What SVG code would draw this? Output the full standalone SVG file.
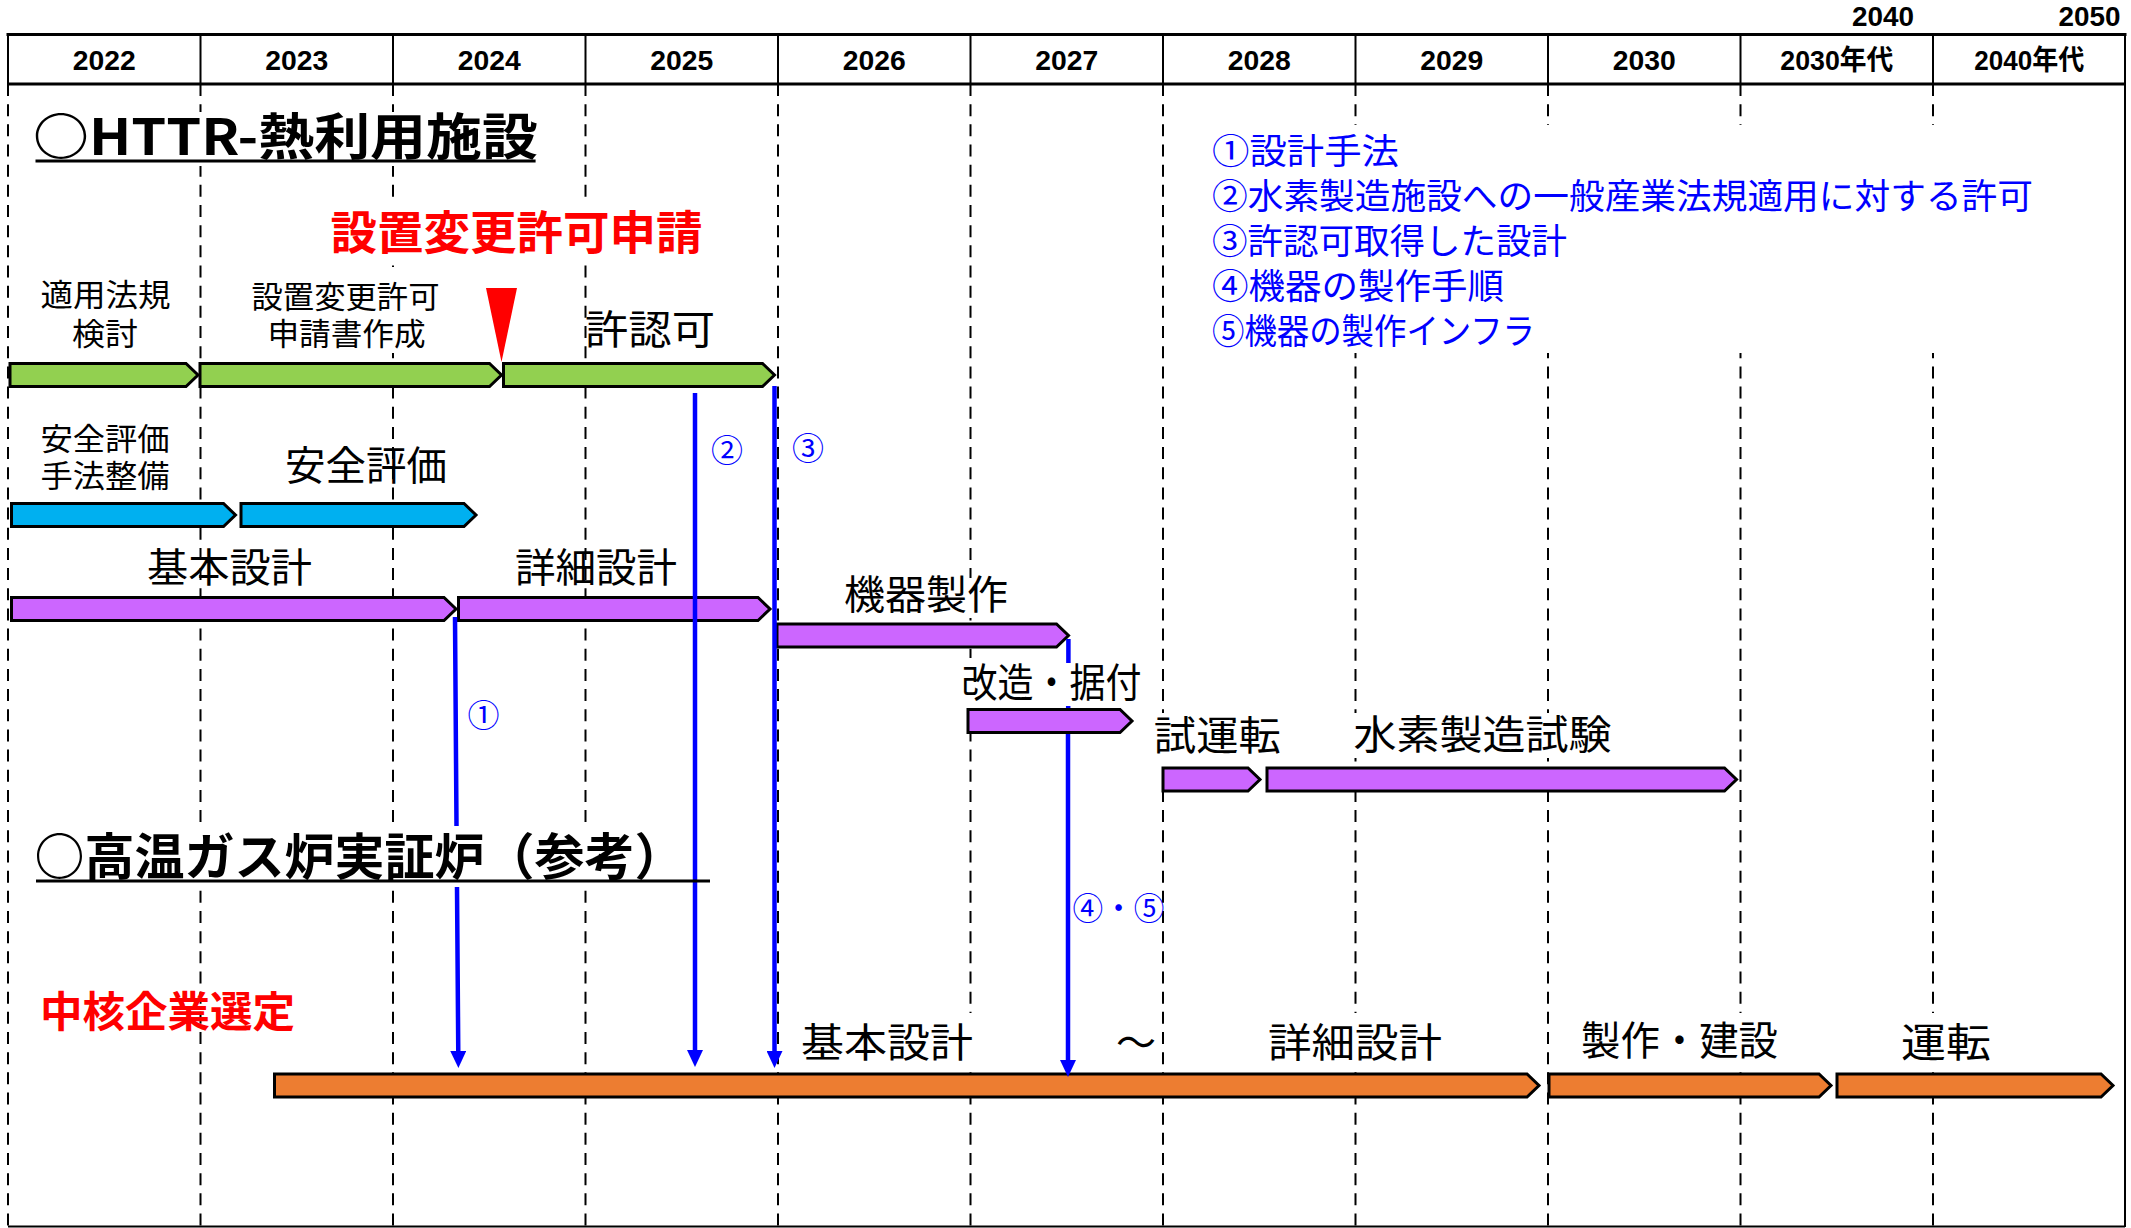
<svg xmlns="http://www.w3.org/2000/svg" width="2131" height="1228" viewBox="0 0 2131 1228" lang="ja">
<defs>
<style>
.hdr{font-family:"Liberation Sans","Noto Sans CJK JP",sans-serif;font-weight:bold;font-size:28px;fill:#000;text-anchor:middle}
.jp{font-family:"Noto Sans CJK JP",sans-serif;fill:#000;text-anchor:middle}
.ml{font-family:"Liberation Sans","Noto Sans CJK JP",sans-serif}
.lbl{font-size:40px}
.sm{font-size:31px}
.ttl{font-size:50px;font-weight:bold}
.red{fill:#FF0000;font-weight:bold}
.blu{fill:#0000FF;font-size:35px;text-anchor:start}
.num{fill:#0000FF;font-size:32px}
.solid{stroke:#000;stroke-width:2;fill:none}
.thick{stroke:#000;stroke-width:3;fill:none}
.dash{stroke:#000;stroke-width:2;stroke-dasharray:12 8.17;fill:none}
.bar{stroke:#000;stroke-width:3;stroke-linejoin:miter}
.g{fill:#92D050}.c{fill:#00B0F0}.p{fill:#CC66FF}.o{fill:#ED7D31}
.conn{stroke:#0000FF;stroke-width:4.5;fill:none}
.wb{fill:#fff}
.ul{stroke:#000;stroke-width:3}
</style>
<marker id="ah" viewBox="0 0 17 16" refX="5" refY="8" markerWidth="17" markerHeight="16" markerUnits="userSpaceOnUse" orient="auto"><path d="M0,0 L17,8 L0,16 z" fill="#0000FF"/></marker>
</defs>
<rect width="2131" height="1228" fill="#fff"/>

<g id="grid">
<path class="dash" d="M8,84V1226 M200.5,84V1226 M393,84V1226 M585.5,84V1226 M778,84V1226 M970.5,84V1226 M1163,84V1226 M1355.5,84V1226 M1548,84V1226 M1740.5,84V1226 M1933,84V1226"/>
<path class="solid" d="M8,34.5V84 M200.5,34.5V84 M393,34.5V84 M585.5,34.5V84 M778,34.5V84 M970.5,34.5V84 M1163,34.5V84 M1355.5,34.5V84 M1548,34.5V84 M1740.5,34.5V84 M1933,34.5V84 M2125,34.5V1227 M8,1226.5H2125"/>
<path class="thick" d="M6.5,34.5H2126.5 M8,84H2125"/>
</g>

<g id="header">
<text class="hdr" x="104.25" y="70" textLength="63" lengthAdjust="spacingAndGlyphs">2022</text>
<text class="hdr" x="296.75" y="70" textLength="63" lengthAdjust="spacingAndGlyphs">2023</text>
<text class="hdr" x="489.25" y="70" textLength="63" lengthAdjust="spacingAndGlyphs">2024</text>
<text class="hdr" x="681.75" y="70" textLength="63" lengthAdjust="spacingAndGlyphs">2025</text>
<text class="hdr" x="874.25" y="70" textLength="63" lengthAdjust="spacingAndGlyphs">2026</text>
<text class="hdr" x="1066.75" y="70" textLength="63" lengthAdjust="spacingAndGlyphs">2027</text>
<text class="hdr" x="1259.25" y="70" textLength="63" lengthAdjust="spacingAndGlyphs">2028</text>
<text class="hdr" x="1451.75" y="70" textLength="63" lengthAdjust="spacingAndGlyphs">2029</text>
<text class="hdr" x="1644.25" y="70" textLength="63" lengthAdjust="spacingAndGlyphs">2030</text>
<text class="hdr" x="1836.75" y="70" textLength="113" lengthAdjust="spacingAndGlyphs">2030年代</text>
<text class="hdr" x="2029.25" y="70" textLength="110" lengthAdjust="spacingAndGlyphs">2040年代</text>
<text class="hdr" x="1883" y="26" textLength="62" lengthAdjust="spacingAndGlyphs">2040</text>
<text class="hdr" x="2089.5" y="26" textLength="62" lengthAdjust="spacingAndGlyphs">2050</text>
</g>

<g id="masks">
<rect class="wb" x="30" y="112" width="512" height="54"/>
<rect class="wb" x="328" y="201" width="378" height="59"/>
<rect class="wb" x="240" y="267" width="215" height="86"/>
<rect class="wb" x="1200" y="125" width="850" height="228"/>
<rect class="wb" x="30" y="826" width="682" height="61"/>
<rect class="wb" x="838" y="578" width="176" height="40"/>
<rect class="wb" x="955" y="658" width="192" height="49"/>
<rect class="wb" x="1150" y="713" width="135" height="50"/>
<rect class="wb" x="1345" y="713" width="275" height="45"/>
<rect class="wb" x="790" y="1013" width="190" height="58"/>
<rect class="wb" x="1260" y="1013" width="190" height="58"/>
<rect class="wb" x="1575" y="1013" width="210" height="58"/>
<rect class="wb" x="1890" y="1013" width="110" height="58"/>
</g>

<g id="title-httr">
<text class="jp ttl" x="285.5" y="155" textLength="505" lengthAdjust="spacingAndGlyphs">○HTTR-熱利用施設</text>
<line class="ul" x1="35.5" y1="161" x2="535.6" y2="161"/>
</g>

<g id="legend">
<text class="jp ml blu"><tspan x="1212" y="164" textLength="187" lengthAdjust="spacingAndGlyphs">①設計手法</tspan><tspan x="1212" y="209" textLength="821" lengthAdjust="spacingAndGlyphs">②水素製造施設への一般産業法規適用に対する許可</tspan><tspan x="1212" y="254" textLength="355" lengthAdjust="spacingAndGlyphs">③許認可取得した設計</tspan><tspan x="1212" y="299" textLength="292" lengthAdjust="spacingAndGlyphs">④機器の製作手順</tspan><tspan x="1212" y="344" textLength="323" lengthAdjust="spacingAndGlyphs">⑤機器の製作インフラ</tspan></text>
</g>

<g id="application">
<text class="jp red" style="font-size:46px" x="516.5" y="249" textLength="372" lengthAdjust="spacingAndGlyphs">設置変更許可申請</text>
<polygon points="486,288 517,288 501.5,362" fill="#FF0000"/>
</g>

<g id="task-tekiyo">
<polygon class="bar g" points="10,363.5 186,363.5 198,375 186,386.5 10,386.5"/>
<text class="jp ml sm"><tspan x="105.5" y="306" textLength="130" lengthAdjust="spacingAndGlyphs">適用法規</tspan><tspan x="105" y="345" textLength="66" lengthAdjust="spacingAndGlyphs">検討</tspan></text>
</g>
<g id="task-shinsei">
<polygon class="bar g" points="200,363.5 489.5,363.5 501.5,375 489.5,386.5 200,386.5"/>
<text class="jp ml sm"><tspan x="345.5" y="308" textLength="188" lengthAdjust="spacingAndGlyphs">設置変更許可</tspan><tspan x="346.5" y="345" textLength="158" lengthAdjust="spacingAndGlyphs">申請書作成</tspan></text>
</g>
<g id="task-kyoninka">
<polygon class="bar g" points="503.5,363.5 762.5,363.5 774.5,375 762.5,386.5 503.5,386.5"/>
<text class="jp lbl" x="650" y="344" textLength="130" lengthAdjust="spacingAndGlyphs">許認可</text>
</g>

<g id="task-anzen-shuho">
<polygon class="bar c" points="11.5,503.5 223.5,503.5 235.5,515 223.5,526.5 11.5,526.5"/>
<text class="jp ml sm"><tspan x="105" y="450" textLength="129" lengthAdjust="spacingAndGlyphs">安全評価</tspan><tspan x="105" y="487" textLength="129" lengthAdjust="spacingAndGlyphs">手法整備</tspan></text>
</g>
<g id="task-anzen">
<polygon class="bar c" points="241,503.5 464,503.5 476,515 464,526.5 241,526.5"/>
<text class="jp lbl" x="366" y="480" textLength="162" lengthAdjust="spacingAndGlyphs">安全評価</text>
</g>

<g id="task-kihon">
<polygon class="bar p" points="11.5,597.5 444,597.5 456,609 444,620.5 11.5,620.5"/>
<text class="jp lbl" x="229.5" y="582" textLength="165" lengthAdjust="spacingAndGlyphs">基本設計</text>
</g>
<g id="task-shosai">
<polygon class="bar p" points="458.5,597.5 758,597.5 770,609 758,620.5 458.5,620.5"/>
<text class="jp lbl" x="596" y="582" textLength="162" lengthAdjust="spacingAndGlyphs">詳細設計</text>
</g>
<g id="task-seisaku">
<polygon class="bar p" points="777,624 1056.5,624 1068.5,635.5 1056.5,647 777,647"/>
<text class="jp lbl" x="926" y="609" textLength="164" lengthAdjust="spacingAndGlyphs">機器製作</text>
</g>

<g id="demo-reactor-bars">
<polygon class="bar o" points="274.5,1074 1527,1074 1539,1085.5 1527,1097 274.5,1097"/>
<polygon class="bar o" points="1549,1074 1819,1074 1831,1085.5 1819,1097 1549,1097"/>
<polygon class="bar o" points="1837,1074 2101,1074 2113,1085.5 2101,1097 1837,1097"/>
</g>

<g id="connectors">
<path class="conn" d="M455,617 L456.5,826 M457,887 L458.3,1056" marker-end="url(#ah)"/>
<path class="conn" d="M695,393 V1055" marker-end="url(#ah)"/>
<path class="conn" d="M774.5,386 V1056" marker-end="url(#ah)"/>
<path class="conn" d="M1068.4,639 V663 M1068.2,706 V709 M1068,733 V1065" marker-end="url(#ah)"/>
</g>

<g id="task-kaizo">
<polygon class="bar p" points="968,709.5 1120,709.5 1132,721 1120,732.5 968,732.5"/>
<text class="jp lbl" x="1051.5" y="697" textLength="180" lengthAdjust="spacingAndGlyphs">改造・据付</text>
</g>
<g id="task-shiunten">
<polygon class="bar p" points="1163,768 1248,768 1260,779.5 1248,791 1163,791"/>
<text class="jp lbl" x="1217.3" y="750" textLength="127" lengthAdjust="spacingAndGlyphs">試運転</text>
</g>
<g id="task-suiso">
<polygon class="bar p" points="1267,768 1724.5,768 1736.5,779.5 1724.5,791 1267,791"/>
<text class="jp lbl" x="1482.6" y="749" textLength="258" lengthAdjust="spacingAndGlyphs">水素製造試験</text>
</g>

<g id="conn-labels">
<text class="jp num" x="483.5" y="727">①</text>
<text class="jp num" x="727" y="462">②</text>
<text class="jp num" x="808" y="460">③</text>
<text class="jp num" x="1118.5" y="920" textLength="92" lengthAdjust="spacingAndGlyphs">④・⑤</text>
</g>

<g id="title-demo">
<text class="jp ttl" x="359.5" y="875" textLength="650" lengthAdjust="spacingAndGlyphs">○高温ガス炉実証炉（参考）</text>
<line class="ul" x1="36" y1="881" x2="710" y2="881"/>
</g>

<g id="select">
<text class="jp red" style="font-size:42px" x="167.5" y="1027" textLength="255" lengthAdjust="spacingAndGlyphs">中核企業選定</text>
</g>

<g id="demo-labels">
<text class="jp lbl" x="887" y="1057" textLength="172" lengthAdjust="spacingAndGlyphs">基本設計</text>
<text class="jp lbl" x="1136" y="1057">～</text>
<text class="jp lbl" x="1355" y="1057" textLength="174" lengthAdjust="spacingAndGlyphs">詳細設計</text>
<text class="jp lbl" x="1679.5" y="1055" textLength="197" lengthAdjust="spacingAndGlyphs">製作・建設</text>
<text class="jp lbl" x="1946" y="1057" textLength="90" lengthAdjust="spacingAndGlyphs">運転</text>
</g>
</svg>
